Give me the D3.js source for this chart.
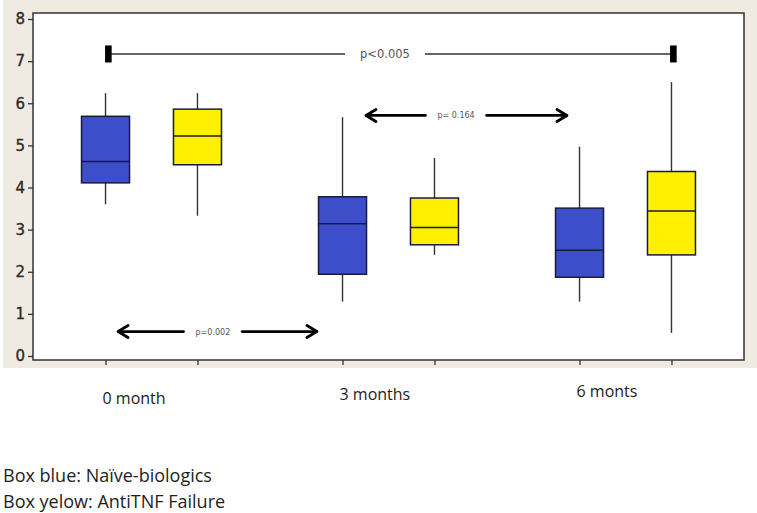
<!DOCTYPE html>
<html>
<head>
<meta charset="utf-8">
<script src="https://cdn.jsdelivr.net/npm/d3@7"></script>
<style>
  html, body { margin: 0; padding: 0; background: #ffffff; }
  svg { display: block; }
</style>
</head>
<body>
<svg id="chart" width="757" height="513"></svg>
<script>
// ---------------- DATA ----------------
const groups = ["0 month", "3 months", "6 monts"];
const seriesNames = ["Naïve-biologics", "AntiTNF Failure"];
const seriesColors = ["#3d4ecb", "#fff000"];

// Naïve-biologics (blue)
const blueLow    = [3.60, 1.29, 1.29];
const blueQ1     = [4.11, 1.94, 1.87];
const blueMedian = [4.62, 3.14, 2.51];
const blueQ3     = [5.69, 3.78, 3.51];
const blueHigh   = [6.24, 5.67, 4.97];

// AntiTNF Failure (yellow)
const yellowLow    = [3.33, 2.40, 0.55];
const yellowQ1     = [4.54, 2.64, 2.40];
const yellowMedian = [5.22, 3.05, 3.44];
const yellowQ3     = [5.86, 3.75, 4.38];
const yellowHigh   = [6.24, 4.70, 6.50];

const yTicks = [0, 1, 2, 3, 4, 5, 6, 7, 8];

// Annotations (x in group units along the category axis, y in data units)
const bracketLabel = "p<0.005";
const bracketX = [0.318, 2.702];
const bracketY = 7.17;
const bracketTextX = 1.485;

const arrowLabels = ["p= 0.164", "p=0.002"];
const arrowFrom   = [1.405, 0.359];
const arrowTo     = [2.253, 1.198];
const arrowY      = [5.71, 0.58];
const arrowTextX  = [1.785, 0.759];

const legendLines = ["Box blue: Naïve-biologics", "Box yelow: AntiTNF Failure"];

// ---------------- LAYOUT ----------------
const frame = { left: 33, right: 744, top: 13, bottom: 360 };
const boxW = 48;
const boxOffset = 0.194; // group units
const labelNudge = [4, 0, -3];

const svg = d3.select("#chart");

// beige panel
svg.append("rect").attr("x", 3).attr("y", 0).attr("width", 754).attr("height", 368)
  .attr("fill", "#efebe3");
// white plot area
svg.append("rect")
  .attr("x", frame.left).attr("y", frame.top)
  .attr("width", frame.right - frame.left).attr("height", frame.bottom - frame.top)
  .attr("fill", "#ffffff");

const x = d3.scaleLinear().domain([0, groups.length]).range([frame.left, frame.right]);
const y = d3.scaleLinear().domain([0, 8]).range([356, 19]);

// series table
const boxes = [];
groups.forEach((g, i) => {
  boxes.push({ gi: i, s: 0, pos: i + 0.5 - boxOffset, lo: blueLow[i], q1: blueQ1[i], med: blueMedian[i], q3: blueQ3[i], hi: blueHigh[i] });
  boxes.push({ gi: i, s: 1, pos: i + 0.5 + boxOffset, lo: yellowLow[i], q1: yellowQ1[i], med: yellowMedian[i], q3: yellowQ3[i], hi: yellowHigh[i] });
});

// Y axis
const yAxis = d3.axisLeft(y).tickValues(yTicks).tickSize(5).tickPadding(3).tickFormat(d3.format("d"));
const yg = svg.append("g").attr("transform", `translate(${frame.left},0)`).call(yAxis);
yg.select(".domain").remove();
yg.selectAll(".tick line").attr("stroke", "#333").attr("stroke-width", 1.3);
yg.selectAll(".tick text").attr("fill", "#2a2a2a")
  .attr("stroke", "#2a2a2a").attr("stroke-width", 0.35)
  .style("font-family", "DejaVu Sans, Verdana, sans-serif")
  .style("font-size", "15px");

// X axis ticks (at box centers, no labels)
const xAxis = d3.axisBottom(x).tickValues(boxes.map(b => b.pos)).tickSize(5).tickFormat("");
const xg = svg.append("g").attr("transform", `translate(0,${frame.bottom})`).call(xAxis);
xg.select(".domain").remove();
xg.selectAll(".tick line").attr("stroke", "#333").attr("stroke-width", 1.3);

// frame
svg.append("rect")
  .attr("x", frame.left).attr("y", frame.top)
  .attr("width", frame.right - frame.left).attr("height", frame.bottom - frame.top)
  .attr("fill", "none").attr("stroke", "#333").attr("stroke-width", 1.5);

// boxes
const bg = svg.append("g").selectAll("g").data(boxes).join("g");
bg.append("line")
  .attr("x1", d => x(d.pos)).attr("x2", d => x(d.pos))
  .attr("y1", d => y(d.hi)).attr("y2", d => y(d.q3))
  .attr("stroke", "#333").attr("stroke-width", 1.4);
bg.append("line")
  .attr("x1", d => x(d.pos)).attr("x2", d => x(d.pos))
  .attr("y1", d => y(d.q1)).attr("y2", d => y(d.lo))
  .attr("stroke", "#333").attr("stroke-width", 1.4);
bg.append("rect")
  .attr("x", d => x(d.pos) - boxW / 2).attr("width", boxW)
  .attr("y", d => y(d.q3)).attr("height", d => y(d.q1) - y(d.q3))
  .attr("fill", d => seriesColors[d.s]).attr("stroke", "#1a1a40").attr("stroke-width", 1.5);
bg.append("line")
  .attr("x1", d => x(d.pos) - boxW / 2).attr("x2", d => x(d.pos) + boxW / 2)
  .attr("y1", d => y(d.med)).attr("y2", d => y(d.med))
  .attr("stroke", "#1a1a40").attr("stroke-width", 1.5);

// bracket annotation
const by = y(bracketY);
const bt = svg.append("text").attr("x", x(bracketTextX)).attr("y", by + 4)
  .attr("text-anchor", "middle").attr("fill", "#555")
  .style("font-family", "DejaVu Sans, sans-serif").style("font-size", "11.5px").text(bracketLabel);
const btw = bt.node().getComputedTextLength();
svg.append("line").attr("x1", x(bracketX[0])).attr("x2", x(bracketTextX) - btw / 2 - 15)
  .attr("y1", by).attr("y2", by).attr("stroke", "#333").attr("stroke-width", 1.4);
svg.append("line").attr("x1", x(bracketTextX) + btw / 2 + 15).attr("x2", x(bracketX[1]))
  .attr("y1", by).attr("y2", by).attr("stroke", "#333").attr("stroke-width", 1.4);
bracketX.forEach(v => {
  svg.append("rect").attr("x", x(v) - 3.3).attr("y", by - 8.5).attr("width", 6.6).attr("height", 17)
    .attr("fill", "#000");
});

// arrow annotations
arrowLabels.forEach((lab, i) => {
  const ay = y(arrowY[i]);
  const x0 = x(arrowFrom[i]), x1 = x(arrowTo[i]), tx = x(arrowTextX[i]);
  const t = svg.append("text").attr("x", tx).attr("y", ay + 3)
    .attr("text-anchor", "middle").attr("fill", "#555")
    .style("font-family", "DejaVu Sans, sans-serif").style("font-size", "8px").text(lab);
  const tw = t.node().getComputedTextLength();
  const g = svg.append("g").attr("stroke", "#000").attr("stroke-width", 2.8).attr("fill", "none")
    .attr("stroke-linecap", "round").attr("stroke-linejoin", "round");
  g.append("line").attr("x1", x0 + 1).attr("x2", tx - tw / 2 - 12).attr("y1", ay).attr("y2", ay);
  g.append("line").attr("x1", tx + tw / 2 + 12).attr("x2", x1 - 1).attr("y1", ay).attr("y2", ay);
  g.append("path").attr("d", `M${x0 + 10},${ay - 6} L${x0},${ay} L${x0 + 10},${ay + 6}`);
  g.append("path").attr("d", `M${x1 - 10},${ay - 6} L${x1},${ay} L${x1 - 10},${ay + 6}`);
});

// category labels
svg.append("g").selectAll("text").data(groups).join("text")
  .attr("x", (d, i) => x(i + 0.5 - boxOffset) - 3)
  .attr("y", (d, i) => 400 + labelNudge[i])
  .attr("fill", "#222")
  .style("font-family", "Open Sans, sans-serif").style("font-size", "16px")
  .text(d => d);

// legend text
svg.append("g").selectAll("text").data(legendLines).join("text")
  .attr("x", 3).attr("y", (d, i) => 481.5 + i * 26)
  .attr("fill", "#1e1e1e")
  .style("font-family", "Open Sans, sans-serif").style("font-size", "18px")
  .text(d => d);
</script>
</body>
</html>
